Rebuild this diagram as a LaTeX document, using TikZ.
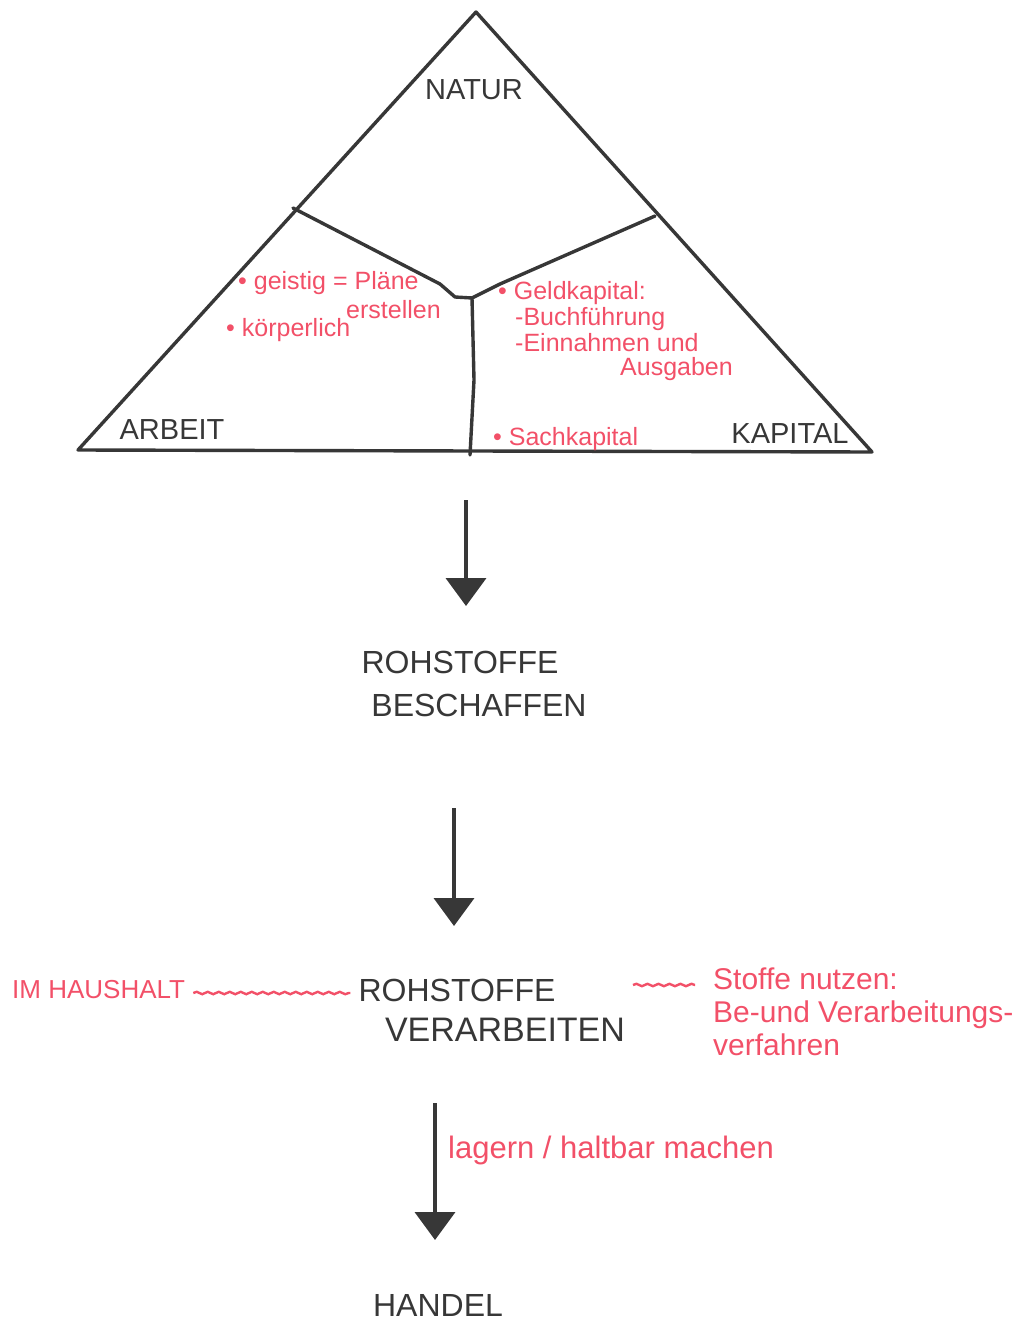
\documentclass[tikz,border=0pt]{standalone}
\usepackage{fontspec}
\setmainfont{Liberation Sans}
\usetikzlibrary{arrows.meta,decorations.pathmorphing,calc}
\definecolor{ink}{RGB}{55,55,55}
\definecolor{pen}{RGB}{242,80,104}
\begin{document}
\begin{tikzpicture}[x=1pt,y=-1pt,
  every node/.style={inner sep=0pt},
  line/.style={draw=ink, line width=3.4pt, line join=round, line cap=round},
  blk/.style={text=ink, font=\fontsize{32}{40}\selectfont},
  lbl/.style={text=ink, font=\fontsize{29}{34}\selectfont},
  redt/.style={text=pen, font=\fontsize{25}{29}\selectfont, anchor=west},
  redb/.style={text=pen, font=\fontsize{30}{33}\selectfont, anchor=west, align=left},
  flow/.style={draw=ink, line width=4pt, -{Triangle[width=40pt,length=28pt]}},
  wavy/.style={draw=pen, line width=2.4pt, decorate, decoration={snake, amplitude=1.2pt, segment length=11pt}},
]
\useasboundingbox (0,0) rectangle (1031,1322);
% triangle
\coordinate (apex) at (476,12);
\coordinate (bl) at (78,450);
\coordinate (br) at (872,452);
\coordinate (pl) at (293,208);
\coordinate (pr) at (655,216);
\coordinate (mid) at (472,298);
\coordinate (bot) at (470,455);
\draw[line] (apex) -- (br) -- (bl) -- cycle;
\draw[line] (pl) -- (440,284) -- (455,297) -- (mid);
\draw[line] (pr) -- (500,284) -- (mid);
\draw[line] (mid) -- (474,380) -- (bot);
% black labels
\node[lbl] (natur) at (474,90) {NATUR};
\node[lbl] (arbeit) at (172,430) {ARBEIT};
\node[lbl] (kapital) at (790,434) {KAPITAL};
% red in triangle
\node[redt] (geistig) at (238,283) {• geistig = Pläne};
\node[redt] (erstellen) at (346,310) {erstellen};
\node[redt] (koerper) at (226,330) {• körperlich};
\node[redt] (geld) at (498,293) {• Geldkapital:};
\node[redt] (buch) at (515,319) {-Buchführung};
\node[redt] (einn) at (515,343) {-Einnahmen und};
\node[redt] (ausg) at (620,369) {Ausgaben};
\node[redt] (sach) at (493,439) {• Sachkapital};
% flow
\node[blk] (roh1) at (460,662) {ROHSTOFFE};
\node[blk] (besch) at (479,705) {BESCHAFFEN};
\node[blk] (roh2) at (457,990) {ROHSTOFFE};
\node[blk, font=\fontsize{34}{40}\selectfont] (verarb) at (505,1030) {VERARBEITEN};
\node[blk] (handel) at (438,1305) {HANDEL};
\coordinate (a1s) at (466,500);
\coordinate (a1e) at (466,606);
\coordinate (a2s) at (454,808);
\coordinate (a2e) at (454,926);
\coordinate (a3s) at (435,1103);
\coordinate (a3e) at (435,1240);
\draw[flow] (a1s) -- (a1e);
\draw[flow] (a2s) -- (a2e);
\draw[flow] (a3s) -- (a3e);
% red side notes
\node[redb, font=\fontsize{26}{30}\selectfont] (haus) at (12,990) {IM HAUSHALT};
\node[redb] (stoffe) at (713,1012) {Stoffe nutzen:\\Be-und Verarbeitungs-\\verfahren};
\node[redb, font=\fontsize{31}{34}\selectfont] (lagern) at (448,1150) {lagern / haltbar machen};
\draw[wavy] ($(haus.east)+(8,3)$) -- ($(roh2.west)+(-8,3)$);
\draw[wavy] ($(stoffe.west)+(-80,-27)$) -- ($(stoffe.west)+(-18,-27)$);
\end{tikzpicture}
\end{document}
